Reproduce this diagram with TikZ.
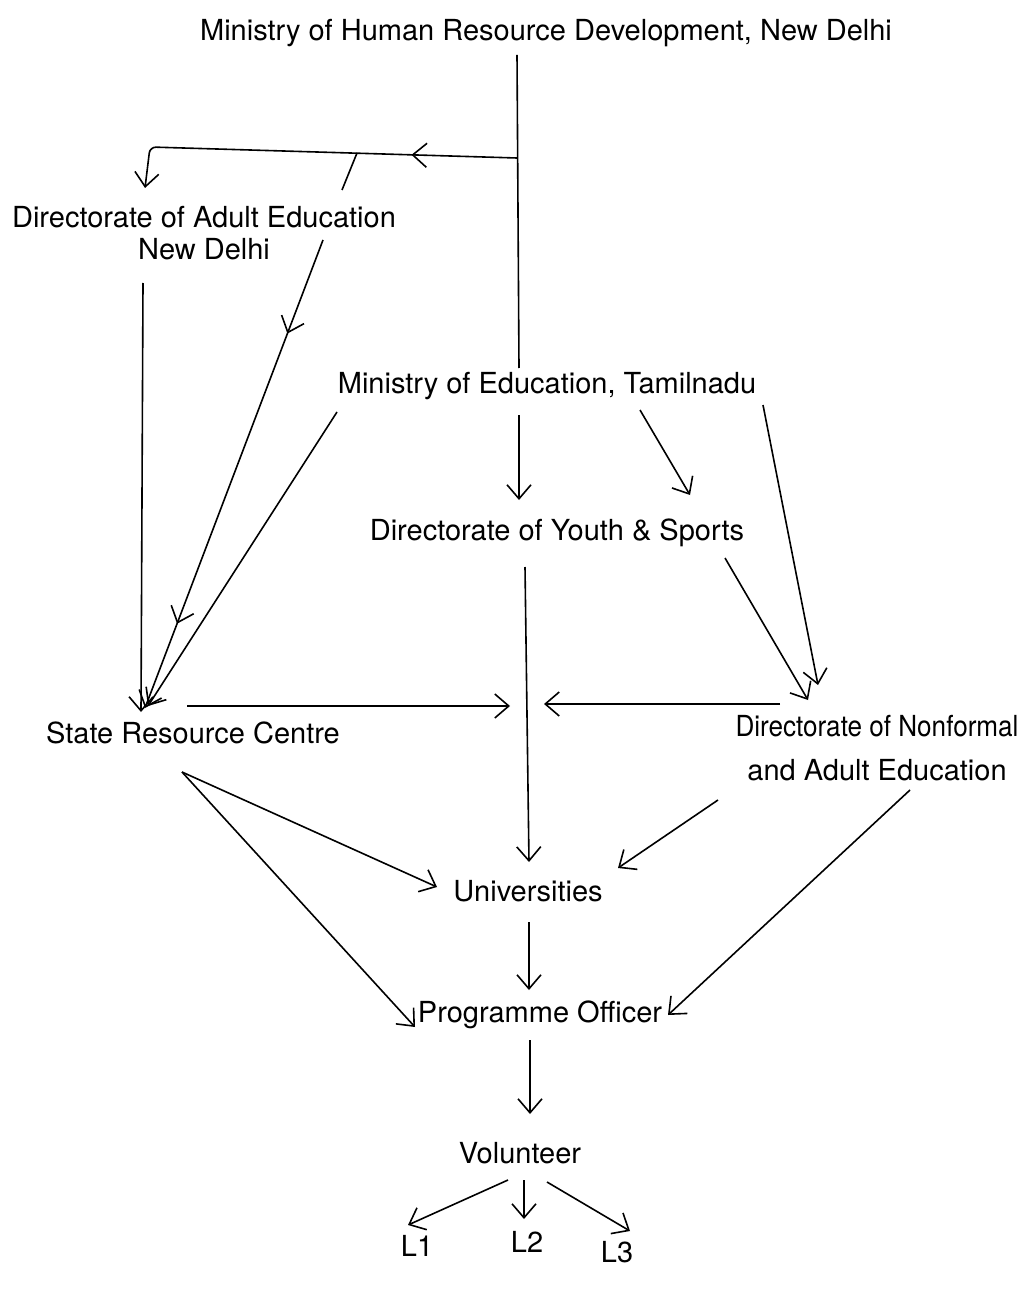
\documentclass[tikz,border=0pt]{standalone}
\usepackage{fontspec}
\setsansfont{TeX Gyre Heros}
\usetikzlibrary{arrows.meta,calc,decorations.markings}
\tikzset{
  nd_lbl/.style = {inner sep=0pt, align=center, font=\sffamily\fontsize{14.5}{16}\selectfont},% label
  nd_one/.style = {nd_lbl, text height=10.4pt, text depth=3pt},% one line label
  nd_two/.style = {nd_lbl},% two line label
  ln/.style = {line width=0.8pt},% plain line
  ln_ar/.style = {ln, ->},% line with head
  ln_mid/.style = {postaction={decorate}, decoration={markings, mark=at position #1 with {\arrow{>}}}}% head half way
}

\begin{document}
\begin{tikzpicture}[x=0.5pt,y=-0.5pt,>={Straight Barb[length=7pt,width=12pt]}]
\useasboundingbox (0,0) rectangle (1027,1294);
% labels
\node [nd_one] (mhrd) at (546,33) {Ministry of Human Resource Development, New Delhi};
\node [nd_two] (dae) at (204,233) {Directorate of Adult Education\\New Delhi};
\node [nd_one] (met) at (547,386) {Ministry of Education, Tamilnadu};
\node [nd_one] (dys) at (557,533) {Directorate of Youth \& Sports};
\node [nd_one] (src) at (193,736) {State Resource Centre};
\node [nd_two] (dnae) at (877,748) {\scalebox{0.9}[1]{Directorate of Nonformal}\\[6pt]and Adult Education};
\node [nd_one] (uni) at (528,894) {Universities};
\node [nd_one] (po) at (540,1015) {Programme Officer};
\node [nd_one] (vol) at (520,1156) {Volunteer};
\node [nd_one] (l1) at (417,1249) {L1};
\node [nd_one] (l2) at (527,1245) {L2};
\node [nd_one] (l3) at (617,1255) {L3};
% branch points
\coordinate (j1) at (517,158);
\coordinate (j2) at (150,147);
\coordinate (j3) at (357,153);
\coordinate (hub_l) at (510,706);
\coordinate (hub_r) at (544,704);
% top part
\draw [ln] ($(mhrd)+(-29,22)$) -- ($(met)+(-28,-18)$);
\draw [ln_ar, ln_mid=0.26, rounded corners=3pt] (j1) -- (j2) -- ($(dae)+(-59,-45)$);
\draw [ln] (j3) -- ($(dae)+(138,-43)$);
\draw [ln_ar, postaction={decorate}, decoration={markings, mark=at position 0.2 with {\arrow{>}}, mark=at position 0.82 with {\arrow{>}}}] ($(dae)+(119,7)$) -- ($(src)+(-48,-28)$);
\draw [ln_ar] ($(dae)+(-61,50)$) -- ($(src)+(-52,-24)$);
\draw [ln_ar] ($(met)+(-210,26)$) -- ($(src)+(-45,-30)$);
\draw [ln_ar] ($(met)+(-28,29)$) -- ($(dys)+(-38,-33)$);
\draw [ln_ar] ($(met)+(93,24)$) -- ($(dys)+(133,-38)$);
\draw [ln_ar] ($(met)+(216,19)$) -- ($(dnae)+(-59,-63)$);
\draw [ln_ar] ($(dys)+(168,25)$) -- ($(dnae)+(-69,-48)$);
% middle part
\draw [ln_ar] ($(dys)+(-32,34)$) -- ($(uni)+(1,-32)$);
\draw [ln_ar] ($(src)+(-6,-30)$) -- (hub_l);
\draw [ln_ar] ($(dnae)+(-97,-44)$) -- (hub_r);
\draw [ln_ar] ($(src)+(-11,36)$) -- ($(uni)+(-91,-7)$);
\draw [ln_ar] ($(src)+(-11,36)$) -- ($(po)+(-125,12)$);
\draw [ln_ar] ($(dnae)+(-159,52)$) -- ($(uni)+(90,-26)$);
\draw [ln_ar] ($(dnae)+(33,42)$) -- ($(po)+(128,0)$);
% bottom part
\draw [ln_ar] ($(uni)+(1,28)$) -- ($(po)+(-11,-25)$);
\draw [ln_ar] ($(po)+(-10,25)$) -- ($(vol)+(10,-42)$);
\draw [ln_ar] ($(vol)+(-12,24)$) -- ($(l1)+(-9,-24)$);
\draw [ln_ar] ($(vol)+(4,24)$) -- ($(l2)+(-3,-26)$);
\draw [ln_ar] ($(vol)+(27,26)$) -- ($(l3)+(13,-24)$);
\end{tikzpicture}
\end{document}
